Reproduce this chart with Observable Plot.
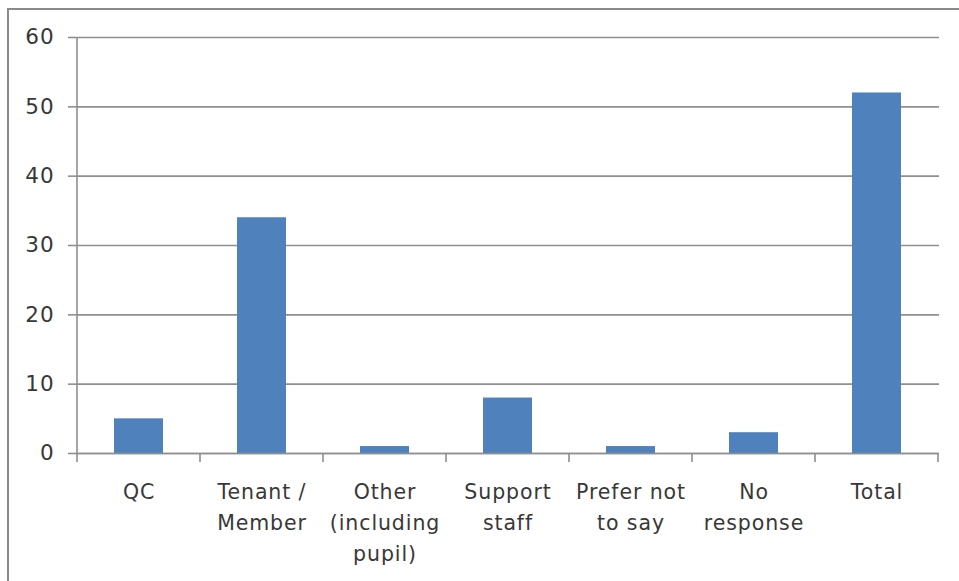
<!DOCTYPE html>
<html><head><meta charset="utf-8">
<script src="https://cdn.jsdelivr.net/npm/d3@7"></script>
<script src="https://cdn.jsdelivr.net/npm/@observablehq/plot@0.6"></script>
<style>
body{margin:0;background:#fff;}
#wrap{position:relative;width:959px;height:581px;overflow:hidden;}
#frame{position:absolute;left:7px;top:8px;width:1000px;height:700px;border-left:2px solid #8a8a8a;border-top:2px solid #8a8a8a;pointer-events:none;}
</style></head><body>
<div id="wrap"></div>
<script>
const categories = ["QC","Tenant / Member","Other (including pupil)","Support staff","Prefer not to say","No response","Total"];
const tickLabels = ["QC","Tenant /\nMember","Other\n(including\npupil)","Support\nstaff","Prefer not\nto say","No\nresponse","Total"];
const values = [5,34,1,8,1,3,52];
const yTicks = [0,10,20,30,40,50,60];

const data = categories.map((c,i)=>({category:c, value: values[i]}));
const labelOf = new Map(categories.map((c,i)=>[c,tickLabels[i]]));
const lineColor = "#8f8f8f";

const boundaryTicks = (index, scales) => {
  const x = scales.x, y = scales.y;
  const step = x.step(), bw = x.bandwidth();
  const g = d3.create("svg:g").attr("stroke", lineColor).attr("stroke-width", 1.6);
  const y0 = y(0), yTop = y(d3.max(yTicks));
  const edges = categories.map(c => x(c) - (step - bw)/2);
  edges.push(x(categories[categories.length-1]) + bw + (step-bw)/2);
  for (const e of edges) g.append("line").attr("x1", e).attr("x2", e).attr("y1", y0).attr("y2", y0 + 9);
  g.append("line").attr("x1", edges[0]).attr("x2", edges[0]).attr("y1", yTop).attr("y2", y0);
  return g.node();
};

const chart = Plot.plot({
  width: 959,
  height: 581,
  marginLeft: 76,
  marginRight: 20,
  marginTop: 37,
  marginBottom: 128,
  style: {fontFamily: "'DejaVu Sans', sans-serif", fontSize: "20px", color: "#383838", background: "transparent", letterSpacing: "0.9px"},
  x: {domain: categories, paddingInner: 0.6, paddingOuter: 0.3},
  y: {domain: [0, 60]},
  marks: [
    Plot.gridY(yTicks, {stroke: lineColor, strokeOpacity: 1, strokeWidth: 1.6}),
    Plot.barY(data, {x: "category", y: "value", fill: "#4F81BD"}),
    Plot.ruleY([0], {stroke: lineColor, strokeWidth: 1.6}),
    boundaryTicks,
    Plot.axisY(yTicks, {tickSize: 8, tickPadding: 14, stroke: lineColor, strokeWidth: 1.6, fontSize: 21.5, label: null}),
    Plot.axisX({tickSize: 0, tickPadding: 23, tickFormat: d => labelOf.get(d), fontSize: 20.5, lineHeight: 1.52, label: null})
  ]
});
const wrap = document.getElementById("wrap");
wrap.appendChild(chart);
const frame = document.createElement("div");
frame.id = "frame";
wrap.appendChild(frame);
</script>
</body></html>
